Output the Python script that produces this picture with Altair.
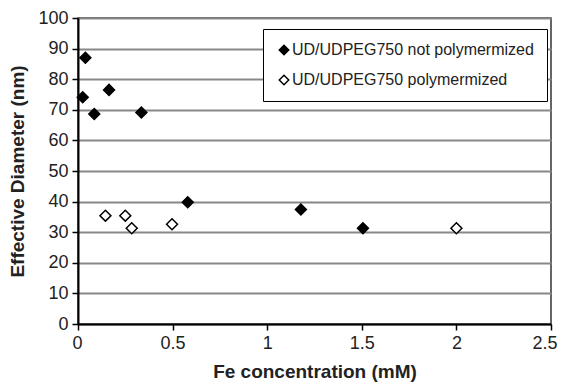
import altair as alt
import pandas as pd

series_names = ["UD/UDPEG750 not polymermized", "UD/UDPEG750 polymermized"]

x_not = [0.025, 0.039, 0.086, 0.164, 0.335, 0.58, 1.178, 1.506]
y_not = [74.1, 87.0, 68.6, 76.5, 69.1, 39.8, 37.4, 31.3]

x_poly = [0.145, 0.25, 0.284, 0.497, 2.0]
y_poly = [35.4, 35.4, 31.3, 32.6, 31.3]

x_ticks = [0, 0.5, 1, 1.5, 2, 2.5]
y_ticks = [0, 10, 20, 30, 40, 50, 60, 70, 80, 90, 100]

df = pd.DataFrame(
    {
        "fe": x_not + x_poly,
        "d": y_not + y_poly,
        "series": [series_names[0]] * len(x_not) + [series_names[1]] * len(x_poly),
    }
)

FONT = "Liberation Sans"

chart = (
    alt.Chart(df)
    .mark_point(shape="diamond", filled=True, size=120, stroke="black", strokeWidth=1.5, opacity=1)
    .encode(
        x=alt.X(
            "fe:Q",
            scale=alt.Scale(domain=[0, 2.5], nice=False, zero=False),
            axis=alt.Axis(
                title="Fe concentration (mM)",
                values=x_ticks,
                format="~g",
                grid=False,
                domainColor="black",
                domainWidth=2,
                tickColor="black",
                tickWidth=1.5,
                tickSize=6,
                labelFlush=True,
                labelFlushOffset=6,
                labelFont=FONT,
                labelFontSize=18,
                labelColor="#222",
                labelPadding=4,
                titleFont=FONT,
                titleFontSize=19,
                titleFontWeight="bold",
                titleColor="#222",
                titlePadding=10,
            ),
        ),
        y=alt.Y(
            "d:Q",
            scale=alt.Scale(domain=[0, 100], nice=False, zero=False),
            axis=alt.Axis(
                title="Effective Diameter (nm)",
                values=y_ticks,
                grid=True,
                gridColor="#888",
                gridWidth=1.8,
                domainColor="black",
                domainWidth=2,
                tickColor="black",
                tickWidth=1.5,
                tickSize=6,
                labelFlush=False,
                labelFont=FONT,
                labelFontSize=18,
                labelColor="#222",
                labelPadding=4,
                titleFont=FONT,
                titleFontSize=19,
                titleFontWeight="bold",
                titleColor="#222",
                titlePadding=10,
            ),
        ),
        fill=alt.Fill(
            "series:N",
            scale=alt.Scale(domain=series_names, range=["black", "white"]),
            legend=alt.Legend(
                title=None,
                orient="none",
                legendX=185,
                legendY=11,
                direction="vertical",
                strokeColor="black",
                fillColor="white",
                padding=13,
                symbolType="diamond",
                symbolSize=90,
                symbolStrokeColor="black",
                symbolStrokeWidth=1.5,
                symbolOpacity=1,
                labelFont=FONT,
                labelFontSize=16,
                labelColor="#222",
                labelOffset=0,
                labelLimit=0,
                rowPadding=14,
            ),
        ),
    )
    .properties(
        width=473,
        height=306,
        autosize=alt.AutoSizeParams(type="none"),
        padding={"left": 70, "top": 10, "right": 7, "bottom": 58},
    )
    .configure_view(stroke="#333", strokeWidth=1.5)
)

chart.save("out.html", embed_options={"renderer": "svg", "actions": False})
